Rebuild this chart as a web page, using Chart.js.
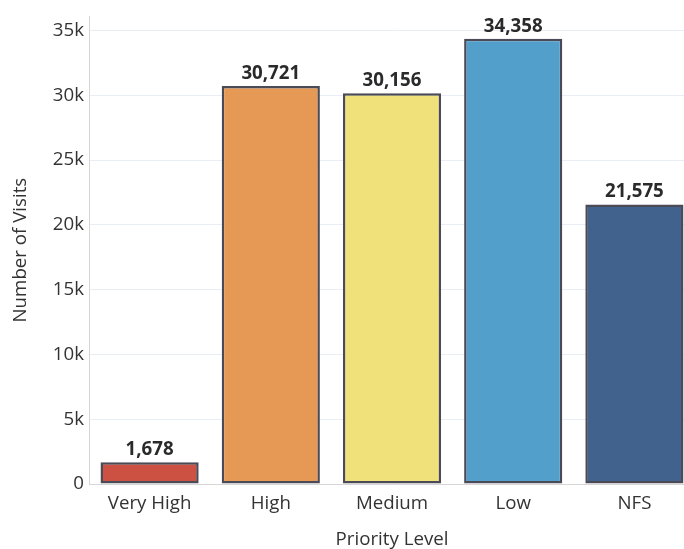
<!DOCTYPE html>
<html>
<head>
<meta charset="utf-8">
<script src="https://cdn.jsdelivr.net/npm/chart.js@4/dist/chart.umd.min.js"></script>
<style>
    html, body { margin: 0; padding: 0; background: #fff; overflow: hidden; }
    #wrap { width: 695px; height: 549px; }
</style>
</head>
<body>
<div id="wrap"><canvas id="chart"></canvas></div>
<script>
// 数据
const categories = ['Very High', 'High', 'Medium', 'Low', 'NFS'];
const visits = [1678, 30721, 30156, 34358, 21575];
const barColors = ['#cc5142', '#e69955', '#f0e17a', '#529fcb', '#41628c'];
const yTicks = [0, 5000, 10000, 15000, 20000, 25000, 30000, 35000];

const font = 'Open Sans';
const fontSize = 18.7;

// 柱顶数值标签
const valueLabels = {
    id: 'valueLabels',
    afterDatasetsDraw(chart) {
        const ctx = chart.ctx;
        const meta = chart.getDatasetMeta(0);
        ctx.save();
        ctx.font = `bold ${fontSize}px "${font}"`;
        ctx.fillStyle = '#2a2a2a';
        ctx.textAlign = 'center';
        ctx.textBaseline = 'bottom';
        meta.data.forEach((bar, i) => {
            ctx.fillText(visits[i].toLocaleString('en-US'), bar.x, bar.y - 3);
        });
        ctx.restore();
    }
};

new Chart(document.getElementById('chart'), {
    type: 'bar',
    data: {
        labels: categories,
        datasets: [{
            data: visits,
            backgroundColor: barColors,
            borderColor: '#4b4b57',
            borderWidth: 2.5,
            borderSkipped: false,
            barPercentage: 0.81,
            categoryPercentage: 1
        }]
    },
    options: {
        responsive: true,
        maintainAspectRatio: false,
        animation: false,
        layout: { padding: { top: 14, right: 0, left: 0, bottom: 0 } },
        plugins: {
            legend: { display: false },
            tooltip: { enabled: false }
        },
        scales: {
            x: {
                grid: { display: false },
                border: { color: '#d6d6d6', width: 1 },
                ticks: { color: '#333', font: { family: font, size: fontSize }, padding: 0 },
                title: {
                    display: true,
                    text: 'Priority Level',
                    color: '#333',
                    font: { family: font, size: fontSize },
                    padding: { top: 0, bottom: -2 }
                },
                afterFit(scale) { scale.height = 65; }
            },
            y: {
                min: 0,
                max: 36100,
                afterBuildTicks(scale) {
                    scale.ticks = yTicks.map(v => ({ value: v }));
                },
                grid: { color: '#e9edf5', drawTicks: false },
                border: { color: '#d6d6d6', width: 1 },
                ticks: {
                    color: '#333',
                    font: { family: font, size: fontSize },
                    padding: 5,
                    callback: v => v === 0 ? '0' : (v / 1000) + 'k'
                },
                title: {
                    display: true,
                    text: 'Number of Visits',
                    color: '#333',
                    font: { family: font, size: fontSize },
                    padding: { top: 9, bottom: 0 }
                },
                afterFit(scale) { scale.width = 89; }
            }
        }
    },
    plugins: [valueLabels]
});
</script>
</body>
</html>
